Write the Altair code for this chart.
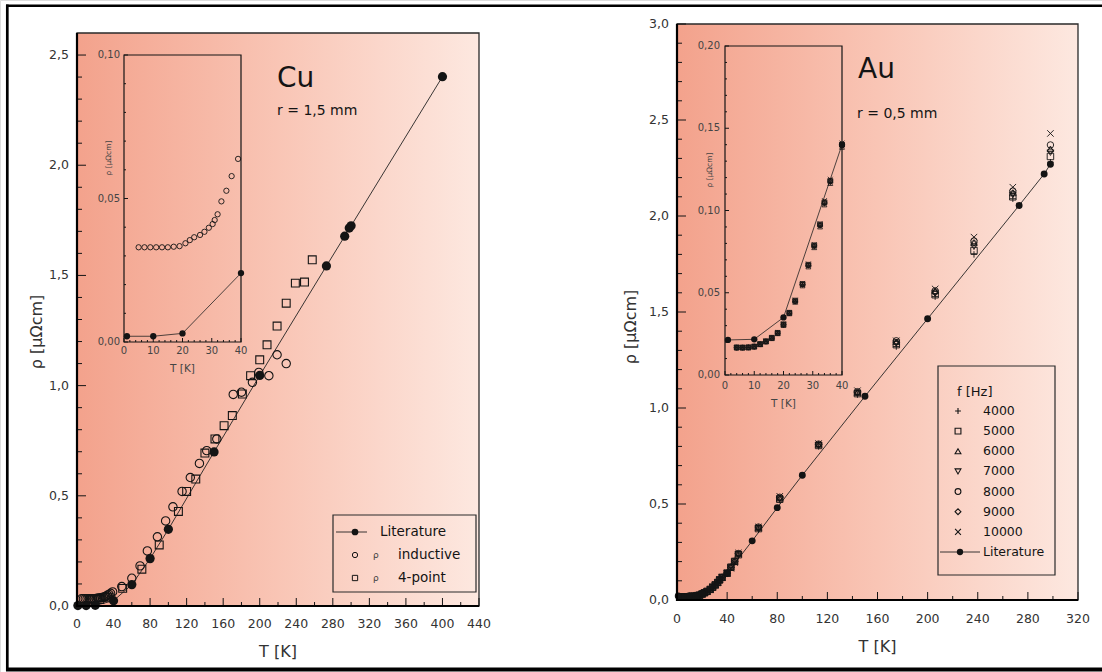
import altair as alt
import pandas as pd

W, H = 1102, 672
FONT = "DejaVu Sans"
INK = "#141414"
LABEL = "#333333"
SOFT = "#444444"

# ---------------- text ----------------
cu_title = "Cu"
cu_radius = "r = 1,5 mm"
au_title = "Au"
au_radius = "r = 0,5 mm"
t_title = "T [K]"
rho_title = "ρ [μΩcm]"
rho_symbol = "ρ"

# ---------------- Cu data ----------------
cu_lit_T = [1, 10, 20, 40, 60, 80, 100, 150, 200, 273, 293, 298, 300, 400]
cu_lit_rho = [0.002, 0.002, 0.003, 0.024, 0.097, 0.215, 0.348, 0.699, 1.046, 1.543, 1.678, 1.715, 1.725, 2.402]

cu_ind_T = [5, 7, 9, 11, 13, 15, 17, 19, 21, 22.5, 24, 26, 27.5, 29, 30.3, 31, 32, 33.3, 35, 36.8,
            39, 49, 60, 69, 77, 88, 97, 105, 115, 124, 134, 142, 153, 171, 180, 192, 199, 210, 219, 229]
cu_ind_rho = [0.033, 0.033, 0.033, 0.033, 0.033, 0.033, 0.0332, 0.0334, 0.0344, 0.0355, 0.0365, 0.0373,
              0.0384, 0.0398, 0.0411, 0.0425, 0.0445, 0.049, 0.0527, 0.0578, 0.0638, 0.088, 0.126, 0.182,
              0.25, 0.314, 0.386, 0.45, 0.52, 0.583, 0.647, 0.705, 0.758, 0.96, 0.97, 1.015, 1.06, 1.045,
              1.14, 1.10]

cu_4p_T = [15, 25, 35, 50, 71, 90, 111, 120, 130, 140, 151, 161, 170, 181, 190, 200, 208, 219, 229, 239, 249, 257.5]
cu_4p_rho = [0.028, 0.03, 0.04, 0.08, 0.167, 0.277, 0.429, 0.52, 0.576, 0.694, 0.758, 0.818, 0.864, 0.962,
             1.045, 1.117, 1.185, 1.27, 1.374, 1.465, 1.47, 1.571]

cu_legend_labels = ["Literature", "inductive", "4-point"]
cu_legend_kinds = ["lit", "ind", "4p"]

cu_T_domain = [0, 440]
cu_rho_domain = [0, 2.6]
cu_T_labels = [0, 40, 80, 120, 160, 200, 240, 280, 320, 360, 400, 440]
cu_T_minor = [20, 60, 100, 140, 180, 220, 260, 300, 340, 380, 420]
cu_rho_labels = [0.0, 0.5, 1.0, 1.5, 2.0, 2.5]
cu_rho_minor = [0.1, 0.2, 0.3, 0.4, 0.6, 0.7, 0.8, 0.9, 1.1, 1.2, 1.3, 1.4, 1.6, 1.7, 1.8, 1.9,
                2.1, 2.2, 2.3, 2.4]

cu_in_T_domain = [0, 40]
cu_in_rho_domain = [0, 0.10]
in_T_labels = [0, 10, 20, 30, 40]
in_T_minor = [2, 4, 6, 8, 12, 14, 16, 18, 22, 24, 26, 28, 32, 34, 36, 38]
cu_in_rho_labels = [0.0, 0.05, 0.10]
cu_in_rho_minor = [0.01, 0.02, 0.03, 0.04, 0.06, 0.07, 0.08, 0.09]

# ---------------- Au data ----------------
au_lit_T = [1, 10, 20, 40, 60, 80, 100, 150, 200, 273, 293, 298]
au_lit_rho = [0.0213, 0.0217, 0.035, 0.140, 0.308, 0.481, 0.650, 1.061, 1.465, 2.055, 2.219, 2.27]

au_freqs = ["4000", "5000", "6000", "7000", "8000", "9000", "10000"]
au_T = [4, 6, 8, 10, 12, 14, 16, 18, 20, 22, 24, 26.5, 28.5, 30.5, 32.5, 34, 36, 40, 43, 46,
        49, 65, 82, 113, 144, 175, 206, 237, 268, 298]
au_rho_4000 = [0.0166, 0.0166, 0.0167, 0.0172, 0.0186, 0.0203, 0.0223, 0.0253, 0.0304, 0.0375,
               0.0446, 0.0547, 0.0663, 0.078, 0.0906, 0.104, 0.117, 0.139, 0.168, 0.198,
               0.232, 0.368, 0.52, 0.80, 1.07, 1.32, 1.58, 1.80, 2.09, 2.28]
au_rho_5000 = [0.0168, 0.0167, 0.0168, 0.0173, 0.0188, 0.0205, 0.0226, 0.0256, 0.0308, 0.0378,
               0.0452, 0.0553, 0.067, 0.0788, 0.0915, 0.105, 0.118, 0.140, 0.171, 0.201,
               0.236, 0.372, 0.525, 0.805, 1.075, 1.33, 1.59, 1.82, 2.10, 2.31]
au_rho_6000 = [0.0165, 0.0165, 0.0166, 0.0171, 0.0185, 0.0202, 0.0222, 0.0252, 0.0302, 0.0373,
               0.0443, 0.0543, 0.0658, 0.0775, 0.0901, 0.1035, 0.1165, 0.1385, 0.170, 0.200,
               0.240, 0.376, 0.53, 0.81, 1.08, 1.345, 1.61, 1.86, 2.12, 2.35]
au_rho_7000 = [0.0167, 0.0166, 0.0167, 0.0172, 0.0187, 0.0204, 0.0224, 0.0254, 0.0305, 0.0376,
               0.0448, 0.0549, 0.0665, 0.0783, 0.0909, 0.1045, 0.1175, 0.1395, 0.169, 0.199,
               0.238, 0.374, 0.528, 0.806, 1.078, 1.34, 1.60, 1.84, 2.11, 2.33]
au_rho_8000 = [0.0166, 0.0167, 0.0168, 0.0173, 0.0187, 0.0204, 0.0225, 0.0255, 0.0306, 0.0377,
               0.0449, 0.0551, 0.0668, 0.0786, 0.0912, 0.1048, 0.118, 0.140, 0.171, 0.202,
               0.242, 0.38, 0.535, 0.812, 1.085, 1.35, 1.61, 1.87, 2.13, 2.37]
au_rho_9000 = [0.0166, 0.0166, 0.0167, 0.0172, 0.0186, 0.0203, 0.0224, 0.0254, 0.0305, 0.0376,
               0.0447, 0.055, 0.0666, 0.0784, 0.091, 0.1042, 0.1172, 0.1392, 0.170, 0.200,
               0.240, 0.377, 0.532, 0.81, 1.08, 1.34, 1.60, 1.86, 2.12, 2.34]
au_rho_10000 = [0.0167, 0.0168, 0.0169, 0.0174, 0.0189, 0.0206, 0.0228, 0.0258, 0.031, 0.038,
                0.0455, 0.0557, 0.0675, 0.0793, 0.092, 0.106, 0.119, 0.141, 0.165, 0.195,
                0.245, 0.38, 0.54, 0.815, 1.09, 1.35, 1.62, 1.89, 2.15, 2.43]
au_series = [au_rho_4000, au_rho_5000, au_rho_6000, au_rho_7000, au_rho_8000, au_rho_9000, au_rho_10000]

au_legend_title = "f [Hz]"
au_legend_labels = ["4000", "5000", "6000", "7000", "8000", "9000", "10000", "Literature"]

au_T_domain = [0, 320]
au_rho_domain = [0, 3.0]
au_T_labels = [0, 40, 80, 120, 160, 200, 240, 280, 320]
au_T_minor = [20, 60, 100, 140, 180, 220, 260, 300]
au_rho_labels = [0.0, 0.5, 1.0, 1.5, 2.0, 2.5, 3.0]
au_rho_minor = [0.1, 0.2, 0.3, 0.4, 0.6, 0.7, 0.8, 0.9, 1.1, 1.2, 1.3, 1.4, 1.6, 1.7, 1.8, 1.9,
                2.1, 2.2, 2.3, 2.4, 2.6, 2.7, 2.8, 2.9]
au_in_T_domain = [0, 40]
au_in_rho_domain = [0, 0.20]
au_in_rho_labels = [0.0, 0.05, 0.10, 0.15, 0.20]
au_in_rho_minor = [0.01, 0.02, 0.03, 0.04, 0.06, 0.07, 0.08, 0.09, 0.11, 0.12, 0.13, 0.14,
                   0.16, 0.17, 0.18, 0.19]

AU_SHAPES = ["M-1,0L1,0M0,-1L0,1", "square", "triangle-up", "triangle-down", "circle", "diamond",
             "M-1,-1L1,1M-1,1L1,-1"]

# ---------------- layout (pixels) ----------------
CU = dict(x0=77, x1=479, y0=606, y1=33)
CU_IN = dict(x0=124, x1=241, y0=342, y1=55)
AU = dict(x0=677, x1=1078, y0=600, y1=24)
AU_IN = dict(x0=725, x1=842, y0=375, y1=46)

GRAD = {"gradient": "linear", "x1": 0, "x2": 1, "y1": 0, "y2": 0,
        "stops": [{"offset": 0, "color": "#F3A28C"},
                  {"offset": 0.5, "color": "#F9C5B5"},
                  {"offset": 1, "color": "#FDE8E0"}]}


def comma_expr(field, dec):
    return f"replace(format(datum.{field}, '.{dec}f'), '.', ',')"


def one_row():
    return alt.Data(values=[{"k": 0}])


def xscale(dom, box):
    return alt.Scale(domain=dom, range=[box["x0"], box["x1"]], nice=False, zero=False)


def yscale(dom, box):
    return alt.Scale(domain=dom, range=[box["y0"], box["y1"]], nice=False, zero=False)


def plot_box(xs, ys, xd, yd, fill, stroke, sw):
    df = pd.DataFrame({"bx0": [xd[0]], "bx1": [xd[1]], "by0": [yd[0]], "by1": [yd[1]]})
    return alt.Chart(df).mark_rect(fill=fill, stroke=stroke, strokeWidth=sw).encode(
        x=alt.X("bx0:Q", scale=xs, axis=None), x2="bx1:Q",
        y=alt.Y("by0:Q", scale=ys, axis=None), y2="by1:Q")


def xticks(vals, xs, box, length, width=1.0):
    return alt.Chart(pd.DataFrame({"v": vals})).mark_rule(color=INK, strokeWidth=width).encode(
        x=alt.X("v:Q", scale=xs, axis=None), y=alt.value(box["y0"]), y2=alt.value(box["y0"] - length))


def yticks(vals, ys, box, length, width=1.0):
    return alt.Chart(pd.DataFrame({"v": vals})).mark_rule(color=INK, strokeWidth=width).encode(
        y=alt.Y("v:Q", scale=ys, axis=None), x=alt.value(box["x0"]), x2=alt.value(box["x0"] + length))


def xlabels(vals, xs, box, dy, size, color):
    return alt.Chart(pd.DataFrame({"v": vals})).transform_calculate(
        lab=comma_expr("v", 0)).mark_text(align="center", baseline="middle", font=FONT,
                                          fontSize=size, color=color).encode(
        x=alt.X("v:Q", scale=xs, axis=None), y=alt.value(box["y0"] + dy), text="lab:N")


def ylabels(vals, ys, box, dx, size, dec, color):
    return alt.Chart(pd.DataFrame({"v": vals})).transform_calculate(
        lab=comma_expr("v", dec)).mark_text(align="right", baseline="middle", font=FONT,
                                            fontSize=size, color=color).encode(
        y=alt.Y("v:Q", scale=ys, axis=None), x=alt.value(box["x0"] - dx), text="lab:N")


def text(t, x, y, size, align="left", baseline="alphabetic", color=INK, angle=0):
    kw = dict(align=align, baseline=baseline, font=FONT, fontSize=size, color=color)
    if angle:
        kw["angle"] = angle
    return alt.Chart(alt.Data(values=[{"t": t}])).mark_text(**kw).encode(
        text="t:N", x=alt.value(x), y=alt.value(y))


def hline(x0, x1, y, w, color="black"):
    return alt.Chart(one_row()).mark_rule(color=color, strokeWidth=w).encode(
        x=alt.value(x0), x2=alt.value(x1), y=alt.value(y))


def vline(x, y0, y1, w, color="black"):
    return alt.Chart(one_row()).mark_rule(color=color, strokeWidth=w).encode(
        x=alt.value(x), y=alt.value(y0), y2=alt.value(y1))


def xy(xs, ys):
    return dict(x=alt.X("T:Q", scale=xs, axis=None), y=alt.Y("rho:Q", scale=ys, axis=None))


# ---------------- data frames ----------------
cu_lit = pd.DataFrame({"T": cu_lit_T, "rho": cu_lit_rho})
cu_ind = pd.DataFrame({"T": cu_ind_T, "rho": cu_ind_rho})
cu_4p = pd.DataFrame({"T": cu_4p_T, "rho": cu_4p_rho})
au_lit = pd.DataFrame({"T": au_lit_T, "rho": au_lit_rho})
au_rows = []
for f, vals in zip(au_freqs, au_series):
    for t, r in zip(au_T, vals):
        au_rows.append({"T": t, "rho": r, "f": f})
au_meas = pd.DataFrame(au_rows)

au_shape = alt.Shape("f:N", scale=alt.Scale(domain=au_freqs, range=AU_SHAPES), legend=None)
lim40 = alt.datum.T <= 40

# ---------------- Cu main ----------------
cx, cy = xscale(cu_T_domain, CU), yscale(cu_rho_domain, CU)
cu_main = alt.layer(
    plot_box(cx, cy, cu_T_domain, cu_rho_domain, GRAD, "#2a2a2a", 1.3),
    xticks(cu_T_labels, cx, CU, 8), xticks(cu_T_minor, cx, CU, 4),
    yticks(cu_rho_labels, cy, CU, 9), yticks(cu_rho_minor, cy, CU, 5),
    xlabels(cu_T_labels, cx, CU, 18, 12.5, LABEL),
    ylabels(cu_rho_labels, cy, CU, 8, 12.5, 1, LABEL),
    alt.Chart(cu_lit).mark_line(color="#222222", strokeWidth=0.9).encode(**xy(cx, cy)),
    alt.Chart(cu_4p).mark_point(shape="square", filled=False, color=INK, size=62, strokeWidth=1.1,
                                opacity=1).encode(**xy(cx, cy)),
    alt.Chart(cu_ind).mark_point(shape="circle", filled=False, color=INK, size=70, strokeWidth=1.1,
                                 opacity=1).encode(**xy(cx, cy)),
    alt.Chart(cu_lit).mark_point(shape="circle", filled=True, color=INK, size=85,
                                 opacity=1).encode(**xy(cx, cy)),
)

# ---------------- Cu inset ----------------
cix, ciy = xscale(cu_in_T_domain, CU_IN), yscale(cu_in_rho_domain, CU_IN)
cu_inset = alt.layer(
    plot_box(cix, ciy, cu_in_T_domain, cu_in_rho_domain, "transparent", INK, 1.2),
    xticks(in_T_labels, cix, CU_IN, 4), xticks(in_T_minor, cix, CU_IN, 2),
    yticks(cu_in_rho_labels, ciy, CU_IN, 4), yticks(cu_in_rho_minor, ciy, CU_IN, 2),
    xlabels(in_T_labels, cix, CU_IN, 9, 10, SOFT),
    ylabels(cu_in_rho_labels, ciy, CU_IN, 4, 10, 2, SOFT),
    alt.Chart(cu_lit).transform_filter(lim40).mark_line(color="#222222", strokeWidth=0.8).encode(**xy(cix, ciy)),
    alt.Chart(cu_ind).transform_filter(lim40).mark_point(shape="circle", filled=False, color=INK, size=28,
                                                         strokeWidth=0.9, opacity=1).encode(**xy(cix, ciy)),
    alt.Chart(cu_lit).transform_filter(lim40).mark_point(shape="circle", filled=True, color=INK, size=40,
                                                         opacity=1).encode(**xy(cix, ciy)),
)

# ---------------- Cu legend ----------------
cu_leg = pd.DataFrame({"row": [0, 1, 2], "label": cu_legend_labels, "kind": cu_legend_kinds})
cly = alt.Y("row:Q", scale=alt.Scale(domain=[0, 2], range=[532, 578], nice=False, zero=False), axis=None)
clb = alt.Chart(cu_leg)
cu_legend = alt.layer(
    alt.Chart(one_row()).mark_rect(fill="transparent", stroke="#2a2a2a", strokeWidth=1.2).encode(
        x=alt.value(333), x2=alt.value(476), y=alt.value(515), y2=alt.value(592)),
    clb.transform_filter("datum.kind == 'lit'").mark_rule(color="#222222", strokeWidth=0.9).encode(
        y=cly, x=alt.value(336), x2=alt.value(367)),
    clb.transform_filter("datum.kind == 'lit'").mark_point(shape="circle", filled=True, color=INK, size=45,
                                                          opacity=1).encode(y=cly, x=alt.value(355)),
    clb.transform_filter("datum.kind == 'ind'").mark_point(shape="circle", filled=False, color=INK, size=28,
                                                          strokeWidth=1, opacity=1).encode(y=cly, x=alt.value(355)),
    clb.transform_filter("datum.kind == '4p'").mark_point(shape="square", filled=False, color=INK, size=28,
                                                         strokeWidth=1, opacity=1).encode(y=cly, x=alt.value(355)),
    clb.transform_filter("datum.kind == 'lit'").mark_text(align="left", baseline="middle", font=FONT,
                                                         fontSize=13.5, color=INK).encode(
        y=cly, x=alt.value(380), text="label:N"),
    clb.transform_filter("datum.kind != 'lit'").mark_text(align="left", baseline="middle", font=FONT,
                                                         fontSize=9, color=SOFT).encode(
        y=cly, x=alt.value(373), text=alt.value(rho_symbol)),
    clb.transform_filter("datum.kind != 'lit'").mark_text(align="left", baseline="middle", font=FONT,
                                                         fontSize=13.5, color=INK).encode(
        y=cly, x=alt.value(398), text="label:N"),
)

# ---------------- Au main ----------------
ax_, ay_ = xscale(au_T_domain, AU), yscale(au_rho_domain, AU)
au_main = alt.layer(
    plot_box(ax_, ay_, au_T_domain, au_rho_domain, GRAD, "#2a2a2a", 1.3),
    xticks(au_T_labels, ax_, AU, 8), xticks(au_T_minor, ax_, AU, 4),
    yticks(au_rho_labels, ay_, AU, 9), yticks(au_rho_minor, ay_, AU, 5),
    xlabels(au_T_labels, ax_, AU, 19, 12.5, LABEL),
    ylabels(au_rho_labels, ay_, AU, 8, 12.5, 1, LABEL),
    alt.Chart(au_lit).mark_line(color="#222222", strokeWidth=0.9).encode(**xy(ax_, ay_)),
    alt.Chart(au_meas).mark_point(filled=False, color=INK, size=42, strokeWidth=0.9, opacity=1).encode(
        shape=au_shape, **xy(ax_, ay_)),
    alt.Chart(au_lit).mark_point(shape="circle", filled=True, color=INK, size=48,
                                 opacity=1).encode(**xy(ax_, ay_)),
)

# ---------------- Au inset ----------------
aix, aiy = xscale(au_in_T_domain, AU_IN), yscale(au_in_rho_domain, AU_IN)
au_inset = alt.layer(
    plot_box(aix, aiy, au_in_T_domain, au_in_rho_domain, "transparent", INK, 1.2),
    xticks(in_T_labels, aix, AU_IN, 4), xticks(in_T_minor, aix, AU_IN, 2),
    yticks(au_in_rho_labels, aiy, AU_IN, 4), yticks(au_in_rho_minor, aiy, AU_IN, 2),
    xlabels(in_T_labels, aix, AU_IN, 11, 10, SOFT),
    ylabels(au_in_rho_labels, aiy, AU_IN, 5, 10, 2, SOFT),
    alt.Chart(au_lit).transform_filter(lim40).mark_line(color="#222222", strokeWidth=0.8).encode(**xy(aix, aiy)),
    alt.Chart(au_meas).transform_filter(lim40).mark_point(filled=False, color=INK, size=24, strokeWidth=0.8,
                                                          opacity=1).encode(shape=au_shape, **xy(aix, aiy)),
    alt.Chart(au_lit).transform_filter(lim40).mark_point(shape="circle", filled=True, color=INK, size=40,
                                                         opacity=1).encode(**xy(aix, aiy)),
)

# ---------------- Au legend ----------------
au_leg = pd.DataFrame({"row": list(range(len(au_legend_labels))), "label": au_legend_labels,
                       "f": au_freqs + [""]})
aly = alt.Y("row:Q", scale=alt.Scale(domain=[0, 7], range=[411, 552], nice=False, zero=False), axis=None)
alb = alt.Chart(au_leg)
au_legend = alt.layer(
    alt.Chart(one_row()).mark_rect(fill="transparent", stroke="#2a2a2a", strokeWidth=1.2).encode(
        x=alt.value(938), x2=alt.value(1055), y=alt.value(366), y2=alt.value(575)),
    alb.transform_filter("datum.f != ''").mark_point(filled=False, color=INK, size=34, strokeWidth=1.1,
                                                     opacity=1).encode(y=aly, x=alt.value(958), shape=au_shape),
    alb.transform_filter("datum.f == ''").mark_rule(color="#222222", strokeWidth=0.9).encode(
        y=aly, x=alt.value(940), x2=alt.value(980)),
    alb.transform_filter("datum.f == ''").mark_point(shape="circle", filled=True, color=INK, size=40,
                                                     opacity=1).encode(y=aly, x=alt.value(960)),
    alb.mark_text(align="left", baseline="middle", font=FONT, fontSize=12.5, color=INK).encode(
        y=aly, x=alt.value(983), text="label:N"),
)

# ---------------- assemble ----------------
chart = alt.layer(
    cu_main, cu_inset, cu_legend,
    au_main, au_inset, au_legend,
    # axis lines (left / bottom)
    vline(CU["x0"], CU["y1"], CU["y0"] + 1, 2.2), hline(CU["x0"] - 1, CU["x1"], CU["y0"], 2.2),
    vline(AU["x0"], AU["y1"], AU["y0"] + 1, 2.2), hline(AU["x0"] - 1, AU["x1"], AU["y0"], 2.2),
    # axis titles
    text(t_title, (CU["x0"] + CU["x1"]) / 2, 652, 16, align="center", baseline="middle", color=LABEL),
    text(t_title, (AU["x0"] + AU["x1"]) / 2, 647, 16, align="center", baseline="middle", color=LABEL),
    text(rho_title, 37, 332, 16, align="center", baseline="middle", color=LABEL, angle=270),
    text(rho_title, 631, 327, 16, align="center", baseline="middle", color=LABEL, angle=270),
    text(t_title, (CU_IN["x0"] + CU_IN["x1"]) / 2, CU_IN["y0"] + 27, 10.5, align="center",
         baseline="middle", color=SOFT),
    text(t_title, (AU_IN["x0"] + AU_IN["x1"]) / 2, AU_IN["y0"] + 29, 10.5, align="center",
         baseline="middle", color=SOFT),
    text(rho_title, 109, 158, 7.5, align="center", baseline="middle", color=SOFT, angle=270),
    text(rho_title, 710, 170, 7.5, align="center", baseline="middle", color=SOFT, angle=270),
    # panel annotations
    text(cu_title, 277, 87, 28),
    text(cu_radius, 277, 115, 14),
    text(au_title, 858, 78, 28),
    text(au_radius, 857, 118, 14),
    text(au_legend_title, 957, 392, 13, baseline="middle"),
    # outer frame
    hline(6, W, 5.8, 2.6),
    hline(6, W, 669.5, 4),
    vline(7.3, 4.5, 671, 2.7),
).resolve_scale(x="independent", y="independent").properties(
    width=W, height=H, padding=0, autosize="none"
).configure_view(stroke=None).configure(background="white")

chart.save("out.html", embed_options={"renderer": "svg", "actions": False})
